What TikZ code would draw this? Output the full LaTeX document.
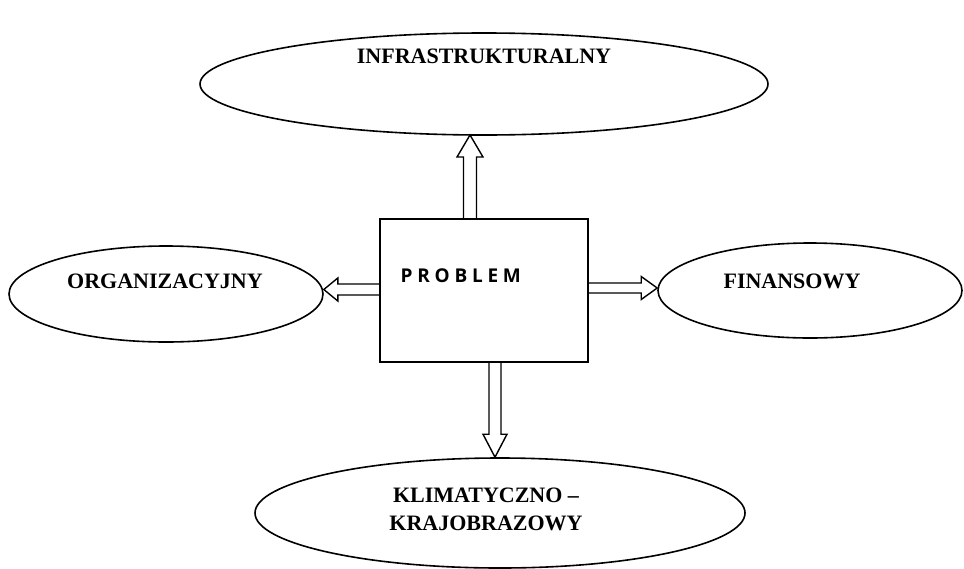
\documentclass[tikz,border=0pt]{standalone}
\usepackage{fontspec}
\setmainfont{Liberation Serif}
\newfontfamily\boxfont[LetterSpace=25]{Open Sans}
\usetikzlibrary{shapes.geometric,calc}

% outlined block arrow from #1 to #2: shaft half-width #3, head half-width #4, head length #5
\newcommand\blockarrow[5]{%
  \coordinate (ba-h) at ($(#2)!#5!(#1)$);
  \draw[outarrow] ($(#1)!#3!90:(#2)$) -- ($(ba-h)!#3!-90:(#1)$) -- ($(ba-h)!#4!-90:(#1)$)
    -- (#2) -- ($(ba-h)!#4!90:(#1)$) -- ($(ba-h)!#3!90:(#1)$) -- ($(#1)!#3!-90:(#2)$);
}

\tikzset{
  topic/.style={ellipse, draw, line width=1.6pt, inner sep=0pt},
  label/.style={font=\bfseries\fontsize{22}{28}\selectfont, inner sep=0pt, anchor=base},
  outarrow/.style={draw, line width=1.4pt, line join=miter},
  centre/.style={draw, line width=1.6pt, inner sep=0pt}
}

\begin{document}
\begin{tikzpicture}[x=1pt, y=-1pt]
  \useasboundingbox (0,0) rectangle (964,568);

  % central box
  \node[centre, minimum width=208pt, minimum height=143pt] (box) at (484,290.5) {};
  \node[font=\boxfont\bfseries\fontsize{19}{22}\selectfont, inner sep=0pt, anchor=base west] (problem) at (400.5,282) {PROBLEM};

  % surrounding topics
  \node[topic, minimum width=568pt, minimum height=102pt] (top) at (484,84) {};
  \node[topic, minimum width=314pt, minimum height=96pt] (left) at (166,294) {};
  \node[topic, minimum width=304pt, minimum height=95pt] (right) at (810,290.5) {};
  \node[topic, minimum width=490pt, minimum height=110pt] (bottom) at (500,513) {};

  \node[label] (ttop) at (484,63) {INFRASTRUKTURALNY};
  \node[label] (tleft) at (165,288) {ORGANIZACYJNY};
  \node[label] (tright) at (792,288) {FINANSOWY};
  \node[label, align=center, anchor=north] (tbottom) at (486,488) {KLIMATYCZNO –\\KRAJOBRAZOWY};

  % arrow end points
  \coordinate (upS) at ([xshift=-14pt]box.north);
  \coordinate (upE) at (470,135);
  \coordinate (lfS) at ([yshift=1pt]box.west);
  \coordinate (lfE) at (lfS -| left.east);
  \coordinate (rtS) at ([yshift=2.5pt]box.east);
  \coordinate (rtE) at (rtS -| right.west);
  \coordinate (dnS) at ([xshift=11pt]box.south);
  \coordinate (dnE) at (dnS |- bottom.north);

  \blockarrow{upS}{upE}{6.5pt}{13pt}{22pt}
  \blockarrow{lfS}{lfE}{5.5pt}{11.5pt}{14pt}
  \blockarrow{rtS}{rtE}{5pt}{11.5pt}{16pt}
  \blockarrow{dnS}{dnE}{6pt}{12pt}{23pt}
\end{tikzpicture}
\end{document}
